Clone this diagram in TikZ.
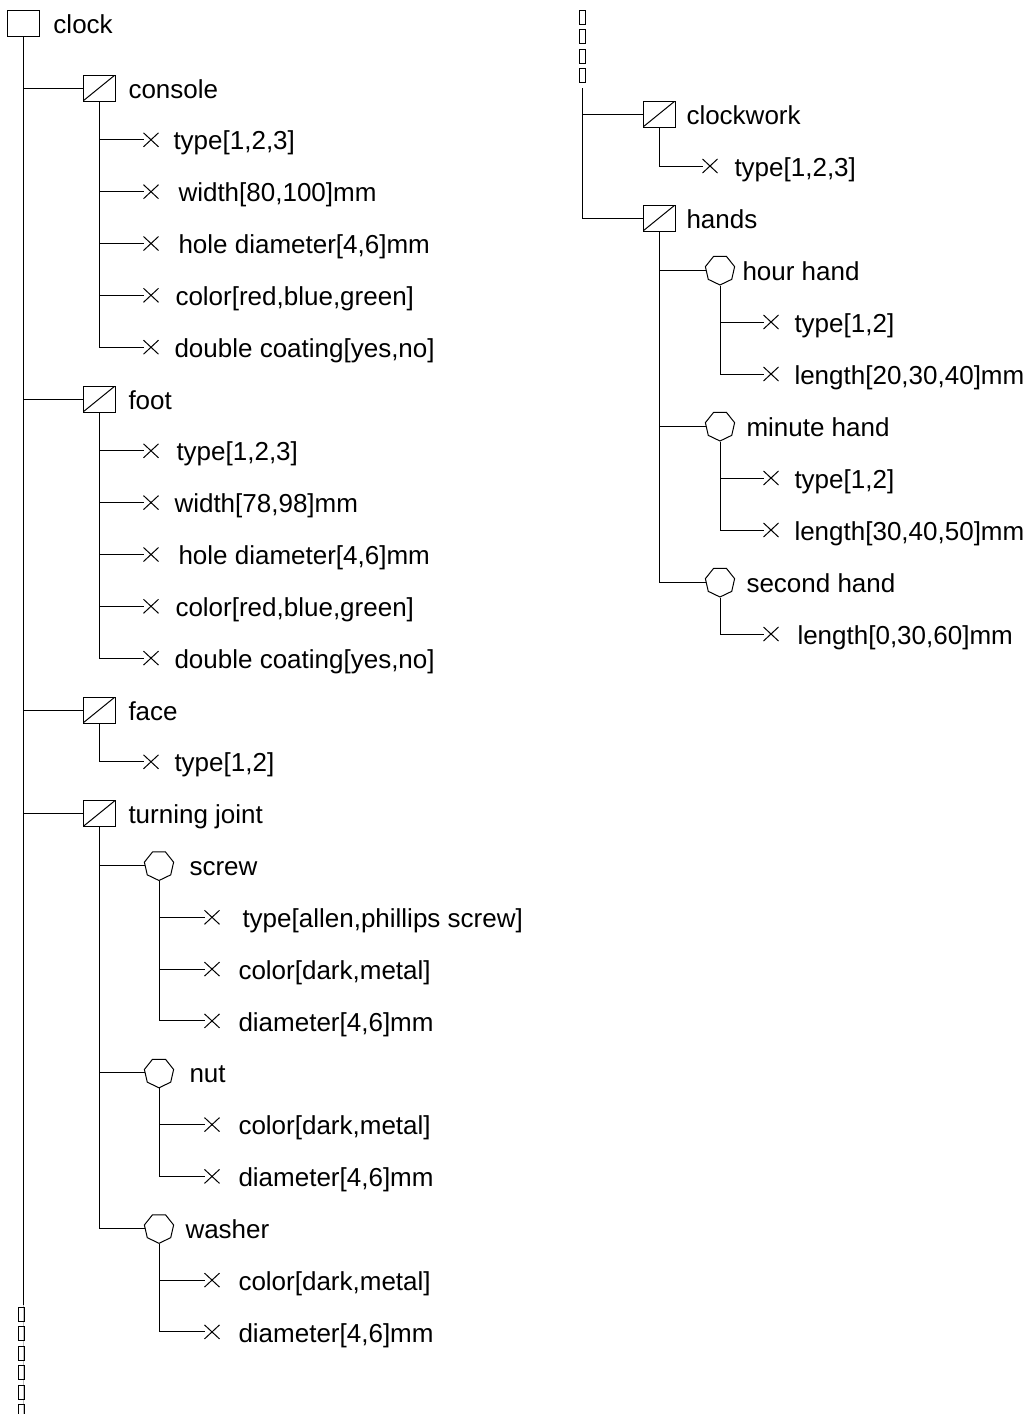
\documentclass[tikz,border=0pt]{standalone}
\usepackage{fontspec}
\setmainfont{Liberation Sans}
\usetikzlibrary{shapes.geometric,shapes.misc}
\begin{document}
\begin{tikzpicture}[x=0.5pt,y=-0.5pt, line width=0.5pt,
 rootbox/.style={draw, minimum width=16pt, minimum height=13pt, inner sep=0pt},
 partbox/.style={rootbox, path picture={\draw[line width=0.5pt] (path picture bounding box.south west) -- (path picture bounding box.north east);}},
 hept/.style={draw, regular polygon, regular polygon sides=7, shape border rotate=180, minimum size=15pt, inner sep=0pt},
 xmark/.style={draw, cross out, minimum width=7pt, minimum height=6.5pt, inner sep=0pt},
 lbl/.style={anchor=west, inner sep=0pt, yshift=-1.5pt, font=\fontsize{13pt}{15pt}\selectfont, text height=0.716em, text depth=0pt},
 glyph/.style={draw, line width=0.45pt, minimum width=3pt, minimum height=7pt, inner sep=0pt}
]
\useasboundingbox (0,0) rectangle (1032,1414);

% ---------- left tree ----------
\node[rootbox] (root) at (23,23.5) {};
\node[lbl] (rootl) at (53,23.5) {clock};
\coordinate (trunkend) at (23,1305);
\draw (root.south) -- (trunkend);
\draw[gray!50, line width=0.3pt] (trunkend) -- (23,1414);
\foreach \i in {0,...,5} {
  \node[glyph] (lg\i) at (21,1314+19.5*\i) {};
}

% console
\node[partbox] (console) at (99,88) {};
\node[lbl] (consolel) at (128,88) {console};
\draw (root.south |- console.west) -- (console.west);
\node[xmark] (c1) at (151,139.8) {}; \node[lbl] (c1l) at (173,139.8) {type[1,2,3]};
\node[xmark] (c2) at (151,191.7) {}; \node[lbl] (c2l) at (178,191.7) {width[80,100]mm};
\node[xmark] (c3) at (151,243.5) {}; \node[lbl] (c3l) at (178,243.5) {hole diameter[4,6]mm};
\node[xmark] (c4) at (151,295.3) {}; \node[lbl] (c4l) at (175,295.3) {color[red,blue,green]};
\node[xmark] (c5) at (151,347.2) {}; \node[lbl] (c5l) at (174,347.2) {double coating[yes,no]};
\foreach \n in {c1,c2,c3,c4,c5} \draw (console.south) |- (\n.west);

% foot
\node[partbox] (foot) at (99,399) {};
\node[lbl] (footl) at (128,399) {foot};
\draw (root.south |- foot.west) -- (foot.west);
\node[xmark] (f1) at (151,450.8) {}; \node[lbl] (f1l) at (176,450.8) {type[1,2,3]};
\node[xmark] (f2) at (151,502.6) {}; \node[lbl] (f2l) at (174,502.6) {width[78,98]mm};
\node[xmark] (f3) at (151,554.5) {}; \node[lbl] (f3l) at (178,554.5) {hole diameter[4,6]mm};
\node[xmark] (f4) at (151,606.3) {}; \node[lbl] (f4l) at (175,606.3) {color[red,blue,green]};
\node[xmark] (f5) at (151,658.1) {}; \node[lbl] (f5l) at (174,658.1) {double coating[yes,no]};
\foreach \n in {f1,f2,f3,f4,f5} \draw (foot.south) |- (\n.west);

% face
\node[partbox] (face) at (99,710) {};
\node[lbl] (facel) at (128,710) {face};
\draw (root.south |- face.west) -- (face.west);
\node[xmark] (fa1) at (151,761.8) {}; \node[lbl] (fa1l) at (174,761.8) {type[1,2]};
\draw (face.south) |- (fa1.west);

% turning joint
\node[partbox] (tj) at (99,813.6) {};
\node[lbl] (tjl) at (128,813.6) {turning joint};
\draw (root.south |- tj.west) -- (tj.west);

% screw
\node[hept] (screw) at (159,865.5) {};
\node[lbl] (screwl) at (189,865.5) {screw};
\draw (tj.south) |- (screw.west);
\node[xmark] (s1) at (212,917.3) {}; \node[lbl] (s1l) at (242,917.3) {type[allen,phillips screw]};
\node[xmark] (s2) at (212,969.1) {}; \node[lbl] (s2l) at (238,969.1) {color[dark,metal]};
\node[xmark] (s3) at (212,1020.9) {}; \node[lbl] (s3l) at (238,1020.9) {diameter[4,6]mm};
\foreach \n in {s1,s2,s3} \draw (screw.south) |- (\n.west);

% nut
\node[hept] (nut) at (159,1072.8) {};
\node[lbl] (nutl) at (189,1072.8) {nut};
\draw (tj.south) |- (nut.west);
\node[xmark] (n1) at (212,1124.6) {}; \node[lbl] (n1l) at (238,1124.6) {color[dark,metal]};
\node[xmark] (n2) at (212,1176.4) {}; \node[lbl] (n2l) at (238,1176.4) {diameter[4,6]mm};
\foreach \n in {n1,n2} \draw (nut.south) |- (\n.west);

% washer
\node[hept] (washer) at (159,1228.3) {};
\node[lbl] (washerl) at (185,1228.3) {washer};
\draw (tj.south) |- (washer.west);
\node[xmark] (w1) at (212,1280.1) {}; \node[lbl] (w1l) at (238,1280.1) {color[dark,metal]};
\node[xmark] (w2) at (212,1331.9) {}; \node[lbl] (w2l) at (238,1331.9) {diameter[4,6]mm};
\foreach \n in {w1,w2} \draw (washer.south) |- (\n.west);

% ---------- right tree ----------
\foreach \i in {0,...,3} {
  \node[glyph] (rg\i) at (582,17+19.5*\i) {};
}
\coordinate (rtop) at (582,88);

\node[partbox] (clockwork) at (659,114) {};
\node[lbl] (clockworkl) at (686,114) {clockwork};
\draw (rtop) |- (clockwork.west);
\node[xmark] (k1) at (710,166) {}; \node[lbl] (k1l) at (734,166) {type[1,2,3]};
\draw (clockwork.south) |- (k1.west);

\node[partbox] (hands) at (659,218) {};
\node[lbl] (handsl) at (686,218) {hands};
\draw (rtop) |- (hands.west);

\node[hept] (hour) at (720,270) {};
\node[lbl] (hourl) at (742,270) {hour hand};
\draw (hands.south) |- (hour.west);
\node[xmark] (h1) at (771,322) {}; \node[lbl] (h1l) at (794,322) {type[1,2]};
\node[xmark] (h2) at (771,374) {}; \node[lbl] (h2l) at (794,374) {length[20,30,40]mm};
\foreach \n in {h1,h2} \draw (hour.south) |- (\n.west);

\node[hept] (minute) at (720,426) {};
\node[lbl] (minutel) at (746,426) {minute hand};
\draw (hands.south) |- (minute.west);
\node[xmark] (m1) at (771,478) {}; \node[lbl] (m1l) at (794,478) {type[1,2]};
\node[xmark] (m2) at (771,530) {}; \node[lbl] (m2l) at (794,530) {length[30,40,50]mm};
\foreach \n in {m1,m2} \draw (minute.south) |- (\n.west);

\node[hept] (second) at (720,582) {};
\node[lbl] (secondl) at (746,582) {second hand};
\draw (hands.south) |- (second.west);
\node[xmark] (sc1) at (771,634) {}; \node[lbl] (sc1l) at (797,634) {length[0,30,60]mm};
\draw (second.south) |- (sc1.west);
\end{tikzpicture}
\end{document}
